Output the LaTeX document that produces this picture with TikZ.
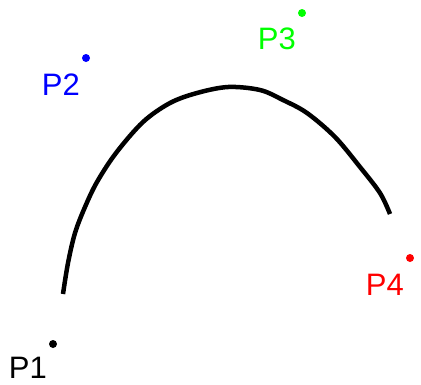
\documentclass[tikz,border=0pt]{standalone}
\usepackage{fontspec}
\setmainfont{Liberation Sans}
\begin{document}
\begin{tikzpicture}[x=1pt,y=-1pt,
  pt/.style={circle,fill,inner sep=0pt,minimum size=8pt},
  lbl/.style={inner sep=0pt,anchor=base east,font=\fontsize{31}{31}\selectfont}]
\useasboundingbox (0,0) rectangle (421,384);
\definecolor{cblue}{RGB}{0,0,255}
\definecolor{cgreen}{RGB}{0,255,0}
\definecolor{cred}{RGB}{255,0,0}
\node[pt,black] (p1) at (53,344) {};
\node[pt,cblue] (p2) at (86,58) {};
\node[pt,cgreen] (p3) at (302,13) {};
\node[pt,cred] (p4) at (410,258) {};
\node[lbl,black] (l1) at (47,378) {P1};
\node[lbl,cblue] (l2) at (80,95) {P2};
\node[lbl,cgreen] (l3) at (296,49) {P3};
\node[lbl,cred] (l4) at (404,295) {P4};
\draw[line width=4.5pt] plot[smooth,tension=0.55] coordinates {(63,294) (68,263) (75,233) (85,207) (97,182) (116,153) (143,122) (170,103) (197,93) (228,87) (260,90) (283,100) (307,113) (335,137) (360,167) (380,193) (390,214)};
\end{tikzpicture}
\end{document}
